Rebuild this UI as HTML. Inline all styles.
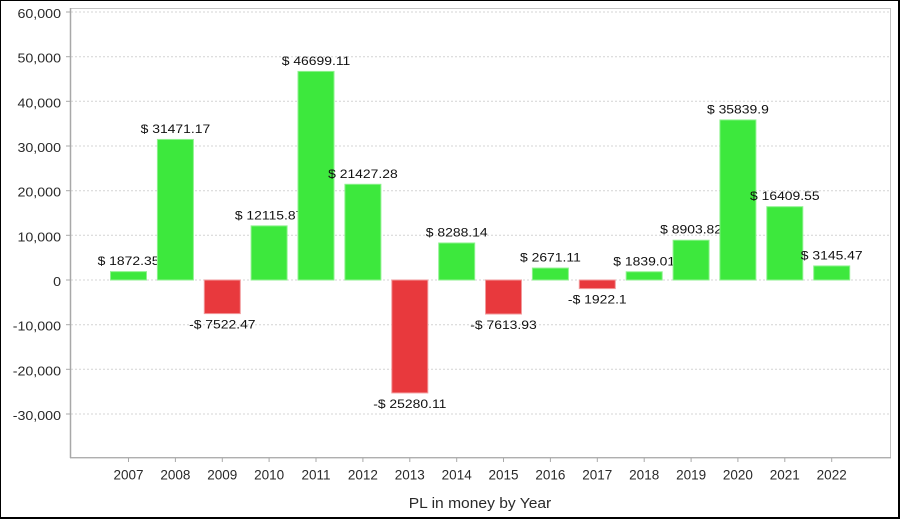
<!DOCTYPE html>
<html><head><meta charset="utf-8"><style>
html,body{margin:0;padding:0;background:#fff;}
svg{display:block;font-family:"Liberation Sans",Arial,sans-serif;}
</style></head><body>
<svg width="900" height="519" viewBox="0 0 900 519" xmlns="http://www.w3.org/2000/svg">
<rect x="0" y="0" width="900" height="519" fill="#000"/>
<rect x="1" y="1" width="897" height="516" fill="#fff"/>
<!-- gridlines -->
<g stroke="#d4d4d4" stroke-width="1" stroke-dasharray="2,2">
<line x1="71" x2="890" y1="12" y2="12"/>
<line x1="71" x2="890" y1="56.7" y2="56.7"/>
<line x1="71" x2="890" y1="101.3" y2="101.3"/>
<line x1="71" x2="890" y1="146" y2="146"/>
<line x1="71" x2="890" y1="190.7" y2="190.7"/>
<line x1="71" x2="890" y1="235.3" y2="235.3"/>
<line x1="71" x2="890" y1="280" y2="280"/>
<line x1="71" x2="890" y1="324.7" y2="324.7"/>
<line x1="71" x2="890" y1="369.3" y2="369.3"/>
<line x1="71" x2="890" y1="414" y2="414"/>
</g>
<!-- plot outline -->
<rect x="70.5" y="8.5" width="820" height="449" fill="none" stroke="#c4c4c4" stroke-width="1"/>
<line x1="70.5" y1="8" x2="70.5" y2="458" stroke="#a8a8a8" stroke-width="1.5"/>
<line x1="70" y1="457.8" x2="891" y2="457.8" stroke="#a8a8a8" stroke-width="1.2"/>
<!-- y ticks -->
<g stroke="#a8a8a8" stroke-width="1">
<line x1="66" x2="70" y1="12" y2="12"/><line x1="66" x2="70" y1="56.7" y2="56.7"/>
<line x1="66" x2="70" y1="101.3" y2="101.3"/><line x1="66" x2="70" y1="146" y2="146"/>
<line x1="66" x2="70" y1="190.7" y2="190.7"/><line x1="66" x2="70" y1="235.3" y2="235.3"/>
<line x1="66" x2="70" y1="280" y2="280"/><line x1="66" x2="70" y1="324.7" y2="324.7"/>
<line x1="66" x2="70" y1="369.3" y2="369.3"/><line x1="66" x2="70" y1="414" y2="414"/>
</g>
<g fill="#2a2a2a" font-size="12.5" text-anchor="end">
<text transform="translate(61,18) scale(1.14,1)">60,000</text>
<text transform="translate(61,62.7) scale(1.14,1)">50,000</text>
<text transform="translate(61,107.3) scale(1.14,1)">40,000</text>
<text transform="translate(61,152) scale(1.14,1)">30,000</text>
<text transform="translate(61,196.7) scale(1.14,1)">20,000</text>
<text transform="translate(61,241.3) scale(1.14,1)">10,000</text>
<text transform="translate(61,286) scale(1.14,1)">0</text>
<text transform="translate(61,330.7) scale(1.14,1)">-10,000</text>
<text transform="translate(61,375.3) scale(1.14,1)">-20,000</text>
<text transform="translate(61,420) scale(1.14,1)">-30,000</text>
</g>
<!-- x ticks -->
<g stroke="#a8a8a8" stroke-width="1">
<line x1="128.5" x2="128.5" y1="458" y2="462"/><line x1="175.4" x2="175.4" y1="458" y2="462"/>
<line x1="222.3" x2="222.3" y1="458" y2="462"/><line x1="269.1" x2="269.1" y1="458" y2="462"/>
<line x1="316" x2="316" y1="458" y2="462"/><line x1="362.9" x2="362.9" y1="458" y2="462"/>
<line x1="409.8" x2="409.8" y1="458" y2="462"/><line x1="456.7" x2="456.7" y1="458" y2="462"/>
<line x1="503.5" x2="503.5" y1="458" y2="462"/><line x1="550.4" x2="550.4" y1="458" y2="462"/>
<line x1="597.3" x2="597.3" y1="458" y2="462"/><line x1="644.2" x2="644.2" y1="458" y2="462"/>
<line x1="691.1" x2="691.1" y1="458" y2="462"/><line x1="737.9" x2="737.9" y1="458" y2="462"/>
<line x1="784.8" x2="784.8" y1="458" y2="462"/><line x1="831.7" x2="831.7" y1="458" y2="462"/>
</g>
<g fill="#2a2a2a" font-size="13.5" text-anchor="middle">
<text x="128.5" y="479.5">2007</text><text x="175.4" y="479.5">2008</text>
<text x="222.3" y="479.5">2009</text><text x="269.1" y="479.5">2010</text>
<text x="316" y="479.5">2011</text><text x="362.9" y="479.5">2012</text>
<text x="409.8" y="479.5">2013</text><text x="456.7" y="479.5">2014</text>
<text x="503.5" y="479.5">2015</text><text x="550.4" y="479.5">2016</text>
<text x="597.3" y="479.5">2017</text><text x="644.2" y="479.5">2018</text>
<text x="691.1" y="479.5">2019</text><text x="737.9" y="479.5">2020</text>
<text x="784.8" y="479.5">2021</text><text x="831.7" y="479.5">2022</text>
</g>
<text transform="translate(480,508) scale(1.04,1)" text-anchor="middle" font-size="15" fill="#2a2a2a">PL in money by Year</text>
<!-- bars + labels -->
<g font-size="11.5" fill="#111" text-anchor="middle">
<rect x="110.5" y="271.64" width="36" height="8.36" fill="#3de83d" stroke="#8ef28e" stroke-width="1"/>
<text transform="translate(128.5,265.1) scale(1.21,1)">$ 1872.35</text>
<rect x="157.4" y="139.43" width="36" height="140.57" fill="#3de83d" stroke="#8ef28e" stroke-width="1"/>
<text transform="translate(175.4,132.9) scale(1.21,1)">$ 31471.17</text>
<rect x="204.3" y="280" width="36" height="33.6" fill="#e8393d" stroke="#f29a9c" stroke-width="1"/>
<text transform="translate(222.3,328.6) scale(1.21,1)">-$ 7522.47</text>
<rect x="251.1" y="225.88" width="36" height="54.12" fill="#3de83d" stroke="#8ef28e" stroke-width="1"/>
<text transform="translate(269.1,219.4) scale(1.21,1)">$ 12115.87</text>
<rect x="298" y="71.41" width="36" height="208.59" fill="#3de83d" stroke="#8ef28e" stroke-width="1"/>
<text transform="translate(316,64.9) scale(1.21,1)">$ 46699.11</text>
<rect x="344.9" y="184.29" width="36" height="95.71" fill="#3de83d" stroke="#8ef28e" stroke-width="1"/>
<text transform="translate(362.9,177.8) scale(1.21,1)">$ 21427.28</text>
<rect x="391.8" y="280" width="36" height="112.92" fill="#e8393d" stroke="#f29a9c" stroke-width="1"/>
<text transform="translate(409.8,407.9) scale(1.21,1)">-$ 25280.11</text>
<rect x="438.7" y="242.98" width="36" height="37.02" fill="#3de83d" stroke="#8ef28e" stroke-width="1"/>
<text transform="translate(456.7,236.5) scale(1.21,1)">$ 8288.14</text>
<rect x="485.5" y="280" width="36" height="34.01" fill="#e8393d" stroke="#f29a9c" stroke-width="1"/>
<text transform="translate(503.5,329) scale(1.21,1)">-$ 7613.93</text>
<rect x="532.4" y="268.07" width="36" height="11.93" fill="#3de83d" stroke="#8ef28e" stroke-width="1"/>
<text transform="translate(550.4,261.6) scale(1.21,1)">$ 2671.11</text>
<rect x="579.3" y="280" width="36" height="8.59" fill="#e8393d" stroke="#f29a9c" stroke-width="1"/>
<text transform="translate(597.3,303.6) scale(1.21,1)">-$ 1922.1</text>
<rect x="626.2" y="271.79" width="36" height="8.21" fill="#3de83d" stroke="#8ef28e" stroke-width="1"/>
<text transform="translate(644.2,265.3) scale(1.21,1)">$ 1839.01</text>
<rect x="673.1" y="240.23" width="36" height="39.77" fill="#3de83d" stroke="#8ef28e" stroke-width="1"/>
<text transform="translate(691.1,233.7) scale(1.21,1)">$ 8903.82</text>
<rect x="719.9" y="119.92" width="36" height="160.08" fill="#3de83d" stroke="#8ef28e" stroke-width="1"/>
<text transform="translate(737.9,113.4) scale(1.21,1)">$ 35839.9</text>
<rect x="766.8" y="206.7" width="36" height="73.3" fill="#3de83d" stroke="#8ef28e" stroke-width="1"/>
<text transform="translate(784.8,200.2) scale(1.21,1)">$ 16409.55</text>
<rect x="813.7" y="265.95" width="36" height="14.05" fill="#3de83d" stroke="#8ef28e" stroke-width="1"/>
<text transform="translate(831.7,259.5) scale(1.21,1)">$ 3145.47</text>
</g>
</svg>
</body></html>
